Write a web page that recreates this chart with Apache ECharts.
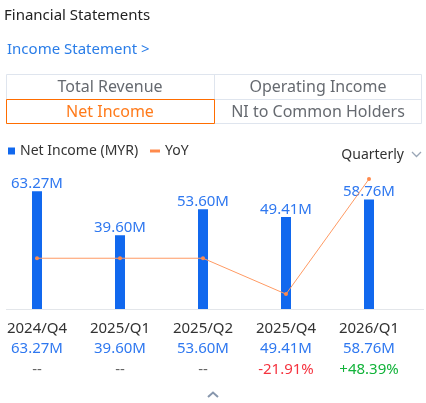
<!DOCTYPE html>
<html>
<head>
<meta charset="utf-8">
<script src="https://cdn.jsdelivr.net/npm/echarts@6/dist/echarts.min.js"></script>
<style>
html,body{margin:0;padding:0;background:#fff;}
#c{width:426px;height:403px;}
</style>
</head>
<body>
<div id="c"></div>
<script>
const categories = ['2024/Q4', '2025/Q1', '2025/Q2', '2025/Q4', '2026/Q1'];
const netIncome = [63.27, 39.60, 53.60, 49.41, 58.76];
const yoy = [null, null, null, -21.91, 48.39];
const tabs = ['Total Revenue', 'Operating Income', 'Net Income', 'NI to Common Holders'];

const FONT = 'Noto Sans';
const fmtM = v => v.toFixed(2) + 'M';
const fmtPct = v => v == null ? '--' : (v > 0 ? '+' : '') + v.toFixed(2) + '%';

const chart = echarts.init(document.getElementById('c'), null, {renderer: 'canvas'});

const tableG = [];
const tx = [6, 214, 422], ty = [74, 99, 124];
tableG.push({type: 'rect', shape: {x: 6.5, y: 74.5, width: 415, height: 49}, style: {fill: 'none', stroke: '#dfe5ee', lineWidth: 1}});
tableG.push({type: 'line', shape: {x1: 6, y1: 99.5, x2: 422, y2: 99.5}, style: {stroke: '#dfe5ee', lineWidth: 1}});
tableG.push({type: 'line', shape: {x1: 214.5, y1: 74, x2: 214.5, y2: 124}, style: {stroke: '#dfe5ee', lineWidth: 1}});
tableG.push({type: 'rect', shape: {x: 6.5, y: 99.5, width: 208, height: 24}, style: {fill: 'none', stroke: '#ff6d00', lineWidth: 1}, z: 10});
tabs.forEach((t, i) => {
  const col = i % 2, row = Math.floor(i / 2);
  tableG.push({type: 'text', x: (tx[col] + tx[col + 1]) / 2, y: (ty[row] + ty[row + 1]) / 2 + 0.5,
    style: {text: t, fill: i === 2 ? '#ff7a1a' : '#666a70', font: '16px ' + FONT, align: 'center', verticalAlign: 'middle'}});
});

chart.setOption({
  animation: false,
  textStyle: {fontFamily: FONT},
  graphic: [
    {type: 'text', x: 4, y: 16, style: {text: 'Financial Statements', fill: '#222', font: '15px ' + FONT, verticalAlign: 'middle'}},
    {type: 'text', x: 7, y: 50, style: {text: 'Income Statement >', fill: '#2a7de8', font: '15px ' + FONT, verticalAlign: 'middle'}},
    ...tableG,
    {type: 'text', x: 404, y: 155, style: {text: 'Quarterly', fill: '#333', font: '14px ' + FONT, align: 'right', verticalAlign: 'middle'}},
    {type: 'polyline', shape: {points: [[412, 152], [416.5, 156.5], [421, 152]]}, style: {stroke: '#9aa6b6', lineWidth: 1.3, fill: 'none'}},
    {type: 'line', shape: {x1: 6, y1: 309.5, x2: 424, y2: 309.5}, style: {stroke: '#e3e6ea', lineWidth: 1}},
    {type: 'polyline', shape: {points: [[208, 397], [213, 392.5], [218, 397]]}, style: {stroke: '#8797ad', lineWidth: 2, fill: 'none'}}
  ],
  legend: [
    {data: [{name: 'Net Income (MYR)', icon: 'rect'}], left: 3, top: 139, itemWidth: 7, itemHeight: 7, itemGap: 4,
      textStyle: {color: '#333', fontSize: 14, fontFamily: FONT}, selectedMode: false},
    {data: [{name: 'YoY', icon: 'rect'}], left: 145, top: 139, itemWidth: 10, itemHeight: 3, itemGap: 4,
      textStyle: {color: '#333', fontSize: 14, fontFamily: FONT}, selectedMode: false}
  ],
  grid: {left: 37, right: 57, top: 160, bottom: 94},
  xAxis: {
    type: 'category', data: categories, boundaryGap: false,
    axisLine: {show: false}, axisTick: {show: false}, splitLine: {show: false},
    axisLabel: {
      margin: 10, interval: 0,
      formatter: (v, i) => {
        const y = yoy[i];
        const st = y == null ? 'n' : (y < 0 ? 'r' : 'g');
        return '{a|' + v + '}\n{b|' + fmtM(netIncome[i]) + '}\n{' + st + '|' + fmtPct(y) + '}';
      },
      rich: {
        a: {color: '#333', fontSize: 15, lineHeight: 20, fontFamily: FONT},
        b: {color: '#2f78f0', fontSize: 15, lineHeight: 20, fontFamily: FONT},
        n: {color: '#666', fontSize: 15, lineHeight: 22, fontFamily: FONT},
        r: {color: '#f5333f', fontSize: 15, lineHeight: 22, fontFamily: FONT},
        g: {color: '#12b33a', fontSize: 15, lineHeight: 22, fontFamily: FONT}
      }
    }
  },
  yAxis: [
    {type: 'value', min: 0, max: 80, show: false},
    {type: 'value', min: -31, max: 60, show: false}
  ],
  series: [
    {name: 'Net Income (MYR)', type: 'bar', data: netIncome, barWidth: 10, yAxisIndex: 0,
      itemStyle: {color: '#1168ee'},
      label: {show: true, position: 'top', distance: 0, color: '#2f78f0', fontSize: 15, fontFamily: FONT,
        formatter: p => fmtM(p.value)}},
    {name: 'YoY', type: 'line', data: yoy.map(v => v == null ? 0 : v), yAxisIndex: 1,
      symbol: 'circle', symbolSize: 4, showSymbol: true,
      lineStyle: {color: '#ff9a63', width: 1}, itemStyle: {color: '#ff8a4c'}}
  ]
});
</script>
</body>
</html>
